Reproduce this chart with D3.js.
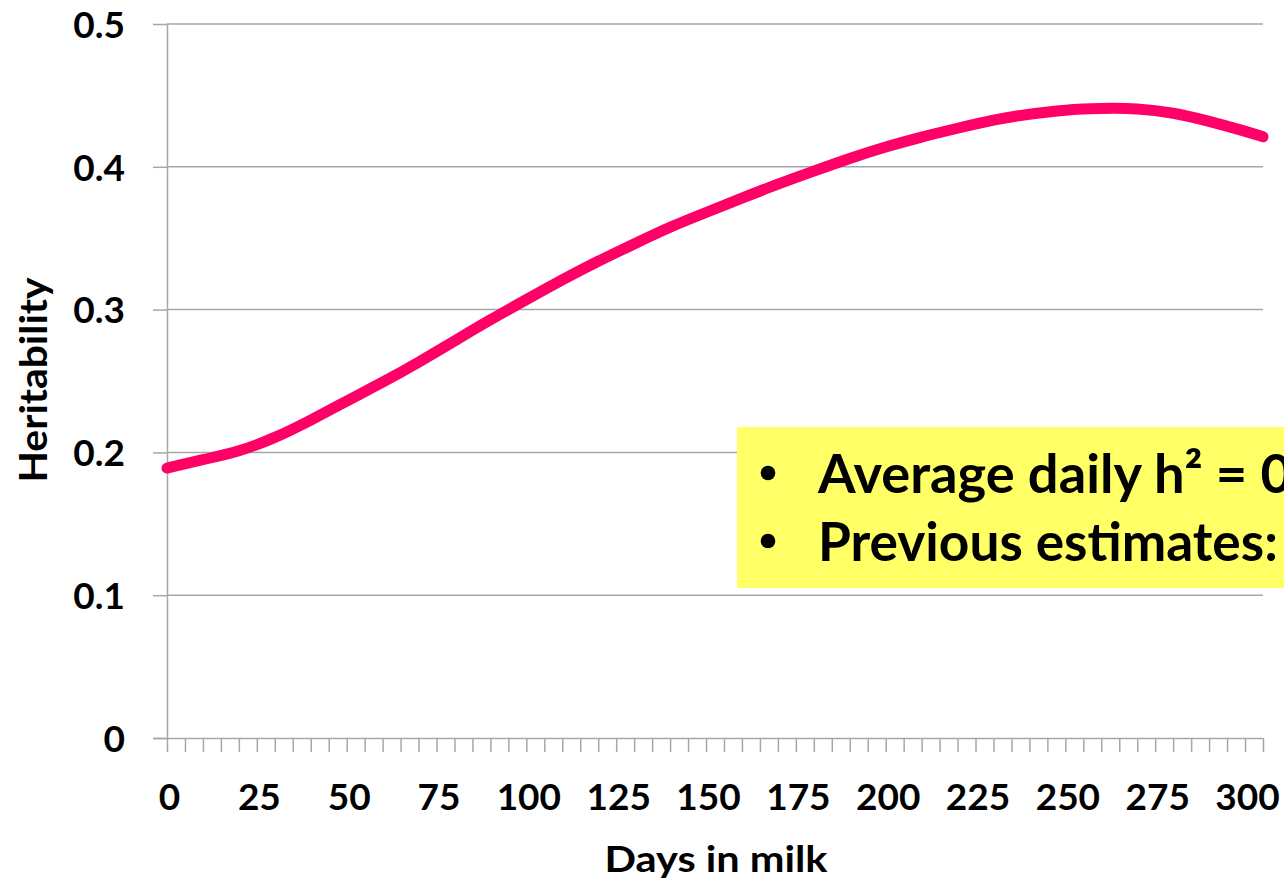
<!DOCTYPE html>
<html>
<head>
<meta charset="utf-8">
<script src="https://cdn.jsdelivr.net/npm/d3@7"></script>
<style>
  html, body { margin: 0; padding: 0; background: #fff; overflow: hidden; }
  svg { display: block; }
  text { font-family: Lato, "Open Sans", sans-serif; font-weight: 700; fill: #000; }
</style>
</head>
<body>
<svg id="chart" width="1284" height="881"></svg>
<script>
// ---- data ----
const days = [0, 10, 20, 30, 40, 50, 60, 70, 80, 90, 100, 110, 120, 130, 140, 150,
              160, 170, 180, 190, 200, 210, 220, 230, 240, 250, 260, 270, 280, 290, 300, 305];
const heritability = [0.189, 0.195, 0.2005, 0.210, 0.2225, 0.236, 0.249, 0.263, 0.278, 0.293,
                      0.307, 0.321, 0.334, 0.346, 0.358, 0.368, 0.378, 0.388, 0.397, 0.406,
                      0.414, 0.421, 0.427, 0.433, 0.437, 0.440, 0.441, 0.441, 0.438, 0.432,
                      0.425, 0.421];
const xTickValues = d3.range(0, 306, 5);
const xLabelValues = [0, 25, 50, 75, 100, 125, 150, 175, 200, 225, 250, 275, 300];
const yTickValues = [0, 0.1, 0.2, 0.3, 0.4, 0.5];
const yTickLabels = ["0", "0.1", "0.2", "0.3", "0.4", "0.5"];
const xTitle = "Days in milk";
const yTitle = "Heritability";
const noteLines = ["Average daily h\u00B2 = 0", "Previous estimates:"];
const noteWidths = [474, 460];

// ---- layout ----
const svg = d3.select("#chart");
const plotL = 167, plotR = 1263, plotT = 24, plotB = 738;
const x = d3.scaleLinear().domain([0, 305]).range([plotL, plotR]);
const y = d3.scaleLinear().domain([0, 0.5]).range([plotB, plotT]);
const axisColor = "#a6a6a6";

// gridlines
svg.append("g").selectAll("line").data(yTickValues.filter(v => v > 0)).join("line")
  .attr("x1", plotL).attr("x2", plotR)
  .attr("y1", d => y(d)).attr("y2", d => y(d))
  .attr("stroke", axisColor).attr("stroke-width", 1.5);

// y axis
const yAxis = svg.append("g").attr("transform", `translate(${plotL},0)`)
  .call(d3.axisLeft(y).tickValues(yTickValues).tickSize(14).tickSizeOuter(0)
        .tickFormat((d, i) => yTickLabels[i]));
yAxis.select(".domain").attr("stroke", axisColor).attr("stroke-width", 1.5);
yAxis.selectAll(".tick line").attr("stroke", axisColor).attr("stroke-width", 1.5);
yAxis.selectAll(".tick text")
  .attr("x", -42).attr("dy", "0.36em")
  .style("font-family", "Lato, sans-serif").style("font-weight", 700)
  .style("font-size", "37px").attr("fill", "#000");

// x axis
const xAxis = svg.append("g").attr("transform", `translate(0,${plotB})`)
  .call(d3.axisBottom(x).tickValues(xTickValues).tickSize(14).tickSizeOuter(0)
        .tickFormat(d => xLabelValues.includes(d) ? String(d) : ""));
xAxis.select(".domain").attr("stroke", axisColor).attr("stroke-width", 1.5)
  .attr("d", `M${plotL - 14},0.5H${plotR}`);
xAxis.selectAll(".tick line").attr("stroke", axisColor).attr("stroke-width", 1.5);
xAxis.selectAll(".tick text")
  .attr("y", 72).attr("dy", 0).attr("dx", 2)
  .style("font-family", "Lato, sans-serif").style("font-weight", 700)
  .style("font-size", "37px").attr("fill", "#000");

// line
const line = d3.line().x((d, i) => x(days[i])).y(d => y(d)).curve(d3.curveBasis);
svg.append("path").datum(heritability)
  .attr("d", line)
  .attr("fill", "none").attr("stroke", "#ff0066")
  .attr("stroke-width", 11).attr("stroke-linecap", "round").attr("stroke-linejoin", "round");

// axis titles
svg.append("text").attr("x", 716).attr("y", 872).attr("text-anchor", "middle")
  .style("font-size", "36px").attr("textLength", 223).attr("lengthAdjust", "spacingAndGlyphs")
  .text(xTitle);
svg.append("text").attr("transform", "translate(47,380) rotate(-90)").attr("text-anchor", "middle")
  .style("font-size", "38px").attr("textLength", 205).attr("lengthAdjust", "spacingAndGlyphs")
  .text(yTitle);

// annotation box
svg.append("rect").attr("x", 737).attr("y", 427).attr("width", 600).attr("height", 161)
  .attr("fill", "#ffff66");
const note = svg.append("g");
noteLines.forEach((t, i) => {
  const by = 493 + i * 68;
  note.append("circle").attr("cx", 768).attr("cy", by - 20).attr("r", 7.3).attr("fill", "#000");
  const tx = note.append("text").attr("x", 0).attr("y", by)
    .style("font-size", "53px").text(t);
  const s = noteWidths[i] / tx.node().getComputedTextLength();
  tx.attr("transform", `translate(818,0) scale(${s},1)`);
});
</script>
</body>
</html>
